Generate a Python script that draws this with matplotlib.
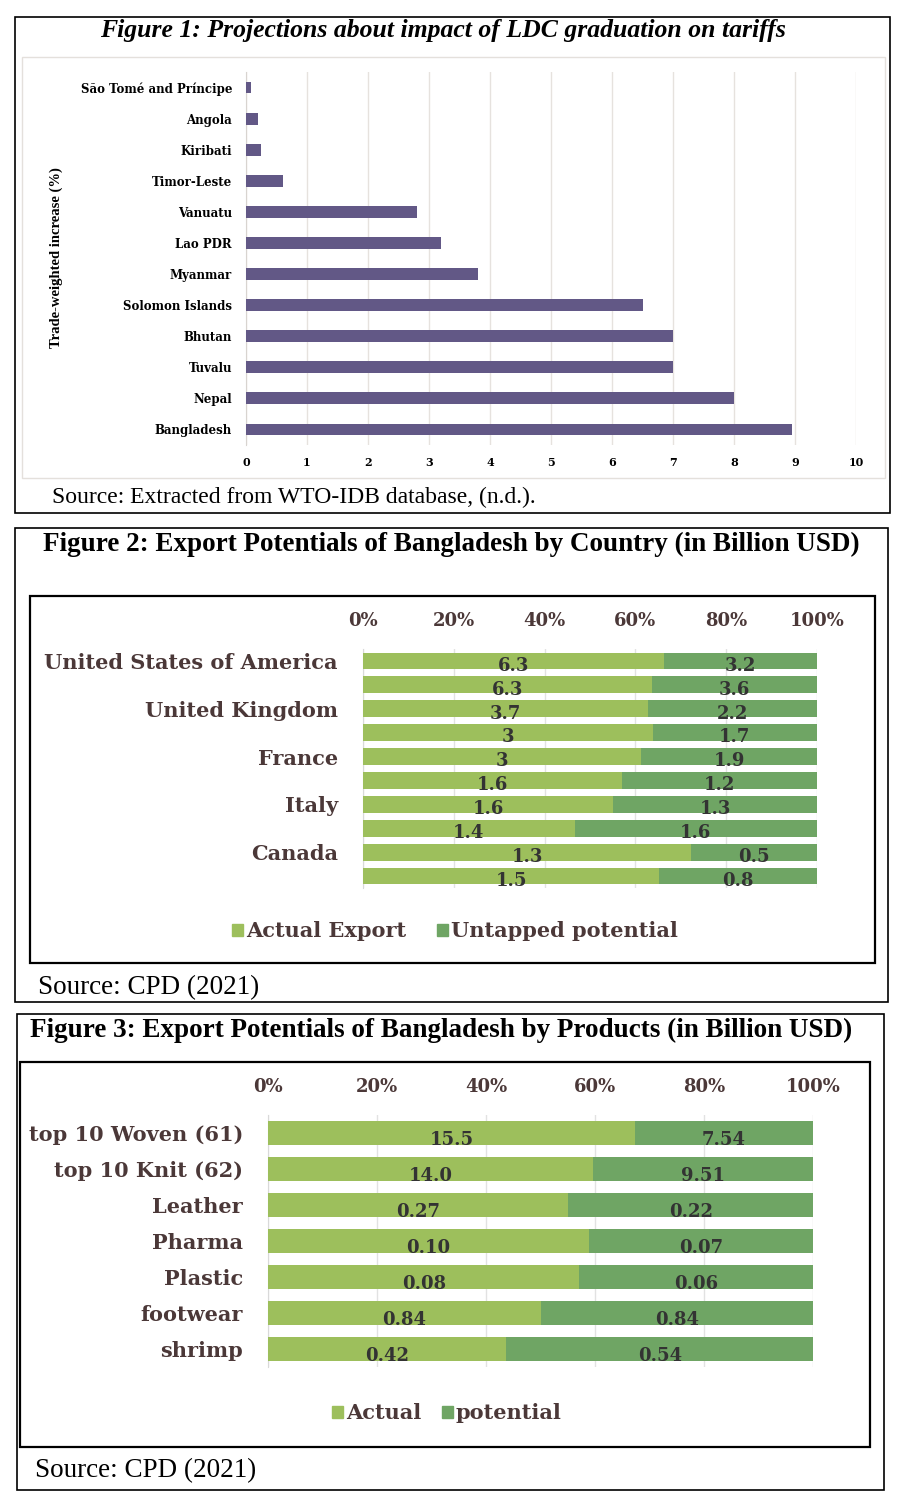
import numpy as np
import matplotlib
matplotlib.use("Agg")
import matplotlib.pyplot as plt
from matplotlib.patches import Rectangle, Patch

W, H = 900, 1502

# Figure 1 data
ldc_countries = ["São Tomé and Príncipe", "Angola", "Kiribati", "Timor-Leste", "Vanuatu",
                 "Lao PDR", "Myanmar", "Solomon Islands", "Bhutan", "Tuvalu", "Nepal", "Bangladesh"]
tariff_increase = [0.08, 0.2, 0.25, 0.6, 2.8, 3.2, 3.8, 6.5, 7.0, 7.0, 8.0, 8.95]

# Figure 2 data
country_labels = ["United States of America", "", "United Kingdom", "", "France", "",
                  "Italy", "", "Canada", ""]
country_actual = [6.3, 6.3, 3.7, 3, 3, 1.6, 1.6, 1.4, 1.3, 1.5]
country_untapped = [3.2, 3.6, 2.2, 1.7, 1.9, 1.2, 1.3, 1.6, 0.5, 0.8]

# Figure 3 data
products = ["top 10 Woven (61)", "top 10 Knit (62)", "Leather", "Pharma", "Plastic",
            "footwear", "shrimp"]
product_actual = [15.5, 14.0, 0.27, 0.10, 0.08, 0.84, 0.42]
product_potential = [7.54, 9.51, 0.22, 0.07, 0.06, 0.84, 0.54]
product_actual_txt = ["15.5", "14.0", "0.27", "0.10", "0.08", "0.84", "0.42"]
product_potential_txt = ["7.54", "9.51", "0.22", "0.07", "0.06", "0.84", "0.54"]

LIGHT = "#9dbf5c"
DARK = "#6fa564"
BROWN = "#4b3838"
PURPLE = "#625886"


def rect(x0, y0, x1, y1):
    # pixel box (top-left origin) -> figure fraction [l, b, w, h]
    return [x0 / W, 1 - y1 / H, (x1 - x0) / W, (y1 - y0) / H]


def box(fig, x0, y0, x1, y1, color="black", lw=1.2):
    l, b, w, h = rect(x0, y0, x1, y1)
    fig.patches.append(Rectangle((l, b), w, h, transform=fig.transFigure,
                                 fill=False, edgecolor=color, linewidth=lw))


def ftext(fig, x, y, s, **kw):
    fig.text(x / W, 1 - y / H, s, **kw)


fig = plt.figure(figsize=(W / 100, H / 100), dpi=100)
fig.patch.set_facecolor("white")

# ---------------- Figure 1 ----------------
box(fig, 15, 17, 890, 513)
box(fig, 22, 57, 885, 478, color="#e4e0dc", lw=1.0)
ftext(fig, 443, 30, "Figure 1: Projections about impact of LDC graduation on tariffs",
      ha="center", va="center", fontsize=18.5, fontweight="bold", fontstyle="italic",
      family="Liberation Serif")
ftext(fig, 52, 497, "Source: Extracted from WTO-IDB database, (n.d.).",
      ha="left", va="center", fontsize=17, family="Liberation Serif")

ax1 = fig.add_axes(rect(246, 72, 856, 445))
y1 = np.arange(len(ldc_countries))
ax1.barh(y1, tariff_increase, height=0.38, color=PURPLE, zorder=3)
ax1.set_xlim(0, 10)
ax1.set_ylim(len(ldc_countries) - 0.5, -0.5)
ax1.set_yticks(y1)
ax1.set_yticklabels(ldc_countries, fontsize=8.5, fontweight="bold", family="DejaVu Serif")
ax1.set_xticks(range(11))
ax1.set_xticklabels([str(i) for i in range(11)], fontsize=8, fontweight="bold",
                    family="DejaVu Serif")
ax1.tick_params(length=0, pad=10)
ax1.tick_params(axis="x", pad=9)
ax1.grid(axis="x", color="#e6e2de", linewidth=1.0, zorder=0)
for s in ax1.spines.values():
    s.set_visible(False)
ax1.spines["left"].set_visible(True)
ax1.spines["left"].set_color("#d8d4d0")
ftext(fig, 56, 258, "Trade-weighted increase (%)", ha="center", va="center",
      rotation=90, fontsize=10.5, fontweight="bold", family="Liberation Serif")

# ---------------- Figure 2 ----------------
box(fig, 15, 528, 888, 1002)
box(fig, 30, 596, 875, 963, lw=1.6)
ftext(fig, 451, 544, "Figure 2: Export Potentials of Bangladesh by Country (in Billion USD)",
      ha="center", va="center", fontsize=19.5, fontweight="bold", family="Liberation Serif")
ftext(fig, 38, 988, "Source: CPD (2021)", ha="left", va="center", fontsize=19.5,
      family="Liberation Serif")


def stacked(ax, labels, actual, other, actual_txt, other_txt, height, lab_size, val_size):
    actual = np.array(actual, dtype=float)
    other = np.array(other, dtype=float)
    tot = actual + other
    pa = actual / tot * 100
    po = other / tot * 100
    y = np.arange(len(labels))
    ax.barh(y, pa, height=height, color=LIGHT, zorder=3)
    ax.barh(y, po, left=pa, height=height, color=DARK, zorder=3)
    for i in range(len(labels)):
        ax.text(pa[i] / 2, y[i] + 0.2, actual_txt[i], ha="center", va="center",
                fontsize=val_size, fontweight="bold", family="DejaVu Serif",
                color="#333333", zorder=4)
        ax.text(pa[i] + po[i] / 2, y[i] + 0.2, other_txt[i], ha="center", va="center",
                fontsize=val_size, fontweight="bold", family="DejaVu Serif",
                color="#333333", zorder=4)
    ax.set_xlim(0, 100)
    ax.set_ylim(len(labels) - 0.5, -0.5)
    ax.set_yticks(y)
    ax.set_yticklabels(labels, fontsize=lab_size, fontweight="bold", family="DejaVu Serif",
                       color=BROWN)
    ax.set_xticks(range(0, 101, 20))
    ax.set_xticklabels([f"{v}%" for v in range(0, 101, 20)], fontsize=13,
                       fontweight="bold", family="DejaVu Serif", color=BROWN)
    ax.xaxis.tick_top()
    ax.tick_params(length=0)
    ax.tick_params(axis="x", pad=14)
    ax.tick_params(axis="y", pad=18)
    ax.grid(axis="x", color="#e2e2e2", linewidth=1.0, zorder=0)
    for s in ax.spines.values():
        s.set_visible(False)
    ax.spines["left"].set_visible(True)
    ax.spines["left"].set_color("#d9d9d9")


ax2 = fig.add_axes(rect(363, 649, 817, 888))
c_act_txt = [f"{v:g}" for v in country_actual]
c_unt_txt = [f"{v:g}" for v in country_untapped]
stacked(ax2, country_labels, country_actual, country_untapped, c_act_txt, c_unt_txt,
        0.7, 15, 13)
fig.legend(handles=[Patch(color=LIGHT, label="Actual Export"),
                    Patch(color=DARK, label="Untapped potential")],
           loc="center", bbox_to_anchor=(455 / W, 1 - 931 / H), ncol=2, frameon=False,
           prop={"family": "DejaVu Serif", "weight": "bold", "size": 15},
           handlelength=0.5, handleheight=0.5, handletextpad=0.15, columnspacing=1.5,
           labelcolor=BROWN)

# ---------------- Figure 3 ----------------
box(fig, 17, 1014, 884, 1490)
box(fig, 20, 1062, 870, 1447, lw=1.6)
ftext(fig, 441, 1030, "Figure 3: Export Potentials of Bangladesh by Products (in Billion USD)",
      ha="center", va="center", fontsize=19.5, fontweight="bold", family="Liberation Serif")
ftext(fig, 35, 1471, "Source: CPD (2021)", ha="left", va="center", fontsize=19.5,
      family="Liberation Serif")

ax3 = fig.add_axes(rect(268, 1115, 813, 1367))
stacked(ax3, products, product_actual, product_potential, product_actual_txt,
        product_potential_txt, 0.66, 15, 13)
fig.legend(handles=[Patch(color=LIGHT, label="Actual"),
                    Patch(color=DARK, label="potential")],
           loc="center", bbox_to_anchor=(447 / W, 1 - 1413 / H), ncol=2, frameon=False,
           prop={"family": "DejaVu Serif", "weight": "bold", "size": 15},
           handlelength=0.5, handleheight=0.5, handletextpad=0.15, columnspacing=1.0,
           labelcolor=BROWN)

fig.savefig("out.png", dpi=100)
